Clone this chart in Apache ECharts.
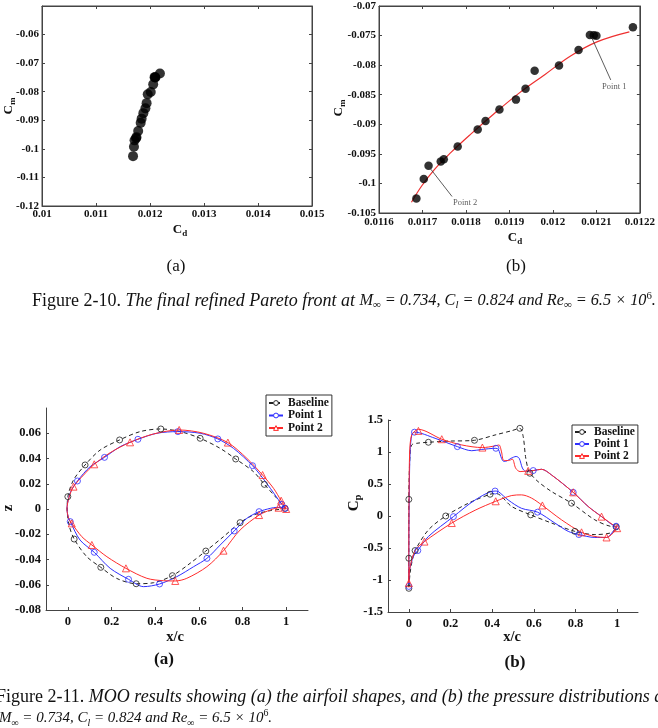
<!DOCTYPE html>
<html><head><meta charset="utf-8">
<script src="https://cdn.jsdelivr.net/npm/echarts@6/dist/echarts.min.js"></script>
<style>html,body{margin:0;padding:0;background:#fff}#c{width:658px;height:728px}</style>
</head><body><div id="c"></div>
<script>
// ---------- Figure 2-10: Pareto front ----------
const paretoCd = [0.011686, 0.011703, 0.011714, 0.011742, 0.011749, 0.011781, 0.011827, 0.011845, 0.011877, 0.011915, 0.011937, 0.011958, 0.012014, 0.012059, 0.012085, 0.012094, 0.0121, 0.012184];
const paretoCm = [-0.10255, -0.09927, -0.09703, -0.0963, -0.0959, -0.09377, -0.0909, -0.08943, -0.0875, -0.08583, -0.0840, -0.08093, -0.08008, -0.07743, -0.0749, -0.07495, -0.07502, -0.0736];
const fitCd = [0.0116747, 0.0116985, 0.0117283, 0.0117656, 0.0118104, 0.0118626, 0.0119222, 0.0119819, 0.0120415, 0.0121012, 0.0121758];
const fitCm = [-0.103192, -0.100393, -0.097572, -0.094750, -0.091701, -0.088343, -0.084730, -0.081570, -0.078410, -0.076062, -0.074369];
const annoNames = ['Point 1', 'Point 2'];
const annoTextCd = [0.012141, 0.011798];
const annoTextCm = [-0.08373, -0.10333];
const annoFromCd = [0.012133, 0.011768];
const annoFromCm = [-0.0825, -0.10221];
const annoToCd = [0.012089, 0.011719];
const annoToCm = [-0.07532, -0.09758];

// ---------- Figure 2-11 (a): airfoil shapes ----------
const baseShapeX = [1.0, 0.957, 0.90, 0.85, 0.769, 0.698, 0.606, 0.515, 0.426, 0.331, 0.237, 0.148, 0.079, 0.026, 0.0, -0.003, 0.006, 0.029, 0.087, 0.151, 0.224, 0.313, 0.392, 0.479, 0.56, 0.632, 0.713, 0.789, 0.85, 0.927, 0.988];
const baseShapeZ = [0.0, 0.0085, 0.0195, 0.0296, 0.0396, 0.048, 0.056, 0.0613, 0.0634, 0.0613, 0.0547, 0.0467, 0.0349, 0.023, 0.0098, 0.0, -0.013, -0.0238, -0.0378, -0.0462, -0.055, -0.0592, -0.0584, -0.0528, -0.043, -0.0333, -0.0219, -0.0108, -0.0048, -0.0013, 0.0];
const baseShapeMarkX = [0.0, 0.079, 0.237, 0.426, 0.606, 0.769, 0.90, 0.995, 0.029, 0.151, 0.313, 0.479, 0.632, 0.789];
const baseShapeMarkZ = [0.0098, 0.0349, 0.0547, 0.0634, 0.056, 0.0396, 0.0195, 0.0005, -0.0238, -0.0462, -0.0592, -0.0528, -0.0333, -0.0108];

const p1ShapeX = [1.0, 0.98, 0.911, 0.846, 0.759, 0.687, 0.606, 0.504, 0.408, 0.321, 0.24, 0.168, 0.102, 0.044, 0.018, 0.004, -0.004, 0.002, 0.011, 0.056, 0.121, 0.194, 0.278, 0.347, 0.42, 0.499, 0.576, 0.637, 0.698, 0.762, 0.82, 0.876, 0.927, 0.957, 0.988, 1.0];
const p1ShapeZ = [0.0, 0.0037, 0.0203, 0.0343, 0.048, 0.0555, 0.06, 0.0613, 0.06, 0.0552, 0.0494, 0.0409, 0.0335, 0.0222, 0.0155, 0.009, 0.0, -0.0065, -0.01, -0.0246, -0.0343, -0.047, -0.0557, -0.0615, -0.0594, -0.0536, -0.0457, -0.0391, -0.0285, -0.0174, -0.0074, -0.0021, 0.0005, 0.0013, 0.001, 0.0];
const p1ShapeMarkX = [0.044, 0.168, 0.321, 0.504, 0.687, 0.846, 0.98, 0.011, 0.121, 0.278, 0.42, 0.637, 0.762, 0.876, 0.995];
const p1ShapeMarkZ = [0.0222, 0.0409, 0.0552, 0.0613, 0.0555, 0.0343, 0.0037, -0.01, -0.0343, -0.0557, -0.0594, -0.0391, -0.0174, -0.0021, 0.0005];

const p2ShapeX = [1.0, 0.977, 0.942, 0.892, 0.82, 0.733, 0.621, 0.51, 0.392, 0.285, 0.194, 0.121, 0.072, 0.026, 0.006, -0.004, 0.004, 0.018, 0.064, 0.11, 0.179, 0.266, 0.362, 0.438, 0.492, 0.545, 0.637, 0.713, 0.789, 0.876, 0.927, 0.965, 1.0];
const p2ShapeZ = [0.0, 0.0066, 0.0164, 0.0269, 0.0401, 0.0526, 0.06, 0.0626, 0.0594, 0.0528, 0.0446, 0.0354, 0.0269, 0.0177, 0.0095, 0.0, -0.0075, -0.0114, -0.0219, -0.0285, -0.0378, -0.047, -0.0549, -0.0568, -0.057, -0.0549, -0.0457, -0.033, -0.0166, -0.0048, -0.0008, 0.001, 0.0];
const p2ShapeMarkX = [0.026, 0.121, 0.285, 0.51, 0.733, 0.892, 0.977, 1.0, 0.018, 0.11, 0.266, 0.492, 0.713, 0.876, 0.965];
const p2ShapeMarkZ = [0.0177, 0.0354, 0.0528, 0.0626, 0.0526, 0.0269, 0.0066, 0.0, -0.0114, -0.0285, -0.047, -0.057, -0.033, -0.0048, 0.001];

// ---------- Figure 2-11 (b): pressure distributions ----------
const baseCpX = [1.0, 0.973, 0.893, 0.781, 0.685, 0.62, 0.581, 0.573, 0.56, 0.549, 0.533, 0.494, 0.414, 0.315, 0.19, 0.094, 0.038, 0.014, 0.006, 0.0, 0.0, 0.0, 0.006, 0.017, 0.03, 0.094, 0.177, 0.286, 0.39, 0.42, 0.494, 0.585, 0.685, 0.797, 0.893, 0.973, 1.0];
const baseCpY = [-0.17, -0.165, -0.06, 0.2, 0.382, 0.538, 0.668, 0.72, 0.93, 1.24, 1.37, 1.333, 1.266, 1.183, 1.17, 1.152, 1.136, 1.11, 0.98, 0.26, -0.66, -1.13, -0.892, -0.685, -0.539, -0.217, 0.0, 0.2, 0.34, 0.35, 0.148, 0.018, -0.11, -0.24, -0.29, -0.26, -0.17];
const baseCpMarkX = [0.0, 0.0, 0.0, 0.03, 0.094, 0.177, 0.315, 0.39, 0.533, 0.581, 0.585, 0.781, 0.797, 0.995];
const baseCpMarkY = [0.26, -0.66, -1.13, -0.54, 1.152, 0.0, 1.183, 0.34, 1.37, 0.668, 0.018, 0.2, -0.24, -0.17];

const p1CpX = [1.0, 0.989, 0.925, 0.861, 0.789, 0.685, 0.637, 0.597, 0.56, 0.545, 0.53, 0.515, 0.49, 0.47, 0.455, 0.445, 0.43, 0.418, 0.35, 0.302, 0.233, 0.126, 0.027, 0.015, 0.006, 0.002, 0.0, 0.0, 0.003, 0.022, 0.043, 0.094, 0.214, 0.318, 0.414, 0.43, 0.477, 0.541, 0.618, 0.701, 0.765, 0.816, 0.893, 0.949, 0.981, 1.0];
const p1CpY = [-0.16, -0.157, -0.008, 0.148, 0.37, 0.641, 0.73, 0.71, 0.7, 0.75, 0.9, 0.93, 0.9, 0.86, 0.855, 0.9, 1.04, 1.058, 1.04, 1.02, 1.084, 1.214, 1.31, 1.28, 1.0, 0.3, -0.5, -1.06, -0.85, -0.63, -0.54, -0.32, -0.01, 0.25, 0.39, 0.38, 0.25, 0.12, 0.06, -0.11, -0.24, -0.29, -0.335, -0.335, -0.24, -0.16];
const p1CpMarkX = [0.0, 0.027, 0.043, 0.214, 0.233, 0.414, 0.418, 0.597, 0.618, 0.789, 0.816, 0.995];
const p1CpMarkY = [-1.1, 1.31, -0.54, -0.01, 1.084, 0.39, 1.058, 0.71, 0.06, 0.37, -0.29, -0.16];

const p2CpX = [1.0, 0.989, 0.925, 0.861, 0.789, 0.685, 0.637, 0.597, 0.573, 0.534, 0.513, 0.497, 0.478, 0.455, 0.445, 0.433, 0.414, 0.353, 0.254, 0.158, 0.046, 0.03, 0.012, 0.004, 0.001, 0.0, 0.0, 0.003, 0.03, 0.075, 0.206, 0.318, 0.417, 0.494, 0.541, 0.589, 0.641, 0.733, 0.829, 0.893, 0.949, 0.981, 1.0];
const p2CpY = [-0.19, -0.16, -0.01, 0.148, 0.37, 0.641, 0.73, 0.71, 0.705, 0.694, 0.746, 0.887, 0.866, 0.87, 1.0, 1.11, 1.095, 1.069, 1.11, 1.2, 1.354, 1.33, 1.25, 1.0, 0.3, -0.5, -1.05, -0.85, -0.54, -0.4, -0.11, 0.09, 0.23, 0.32, 0.33, 0.28, 0.165, -0.06, -0.255, -0.32, -0.335, -0.265, -0.19];
const p2CpMarkX = [0.0, 0.046, 0.075, 0.158, 0.206, 0.353, 0.417, 0.573, 0.641, 0.789, 0.829, 0.925, 0.949, 1.0];
const p2CpMarkY = [-1.05, 1.33, -0.4, 1.2, -0.11, 1.069, 0.23, 0.705, 0.165, 0.37, -0.255, -0.01, -0.335, -0.19];

const legendNames = ['Baseline', 'Point 1', 'Point 2'];
const xcTicks = [0, 0.2, 0.4, 0.6, 0.8, 1];

// ---------- build ----------
const SERIF = '"Liberation Serif", "Times New Roman", serif';
const zip = (xs, ys) => xs.map((x, i) => [x, ys[i]]);
const AX = '#444';
const BLUE = '#2f2fff', RED = '#ff2b2b', BLACK = '#222';

function axis(gi, min, max, interval, o) {
  o = o || {};
  const a = {
    type: 'value', gridIndex: gi, min: min, max: max,
    splitLine: {show: false},
    axisLine: {show: true, onZero: false, lineStyle: {color: AX, width: 1}},
    axisTick: {show: true, inside: true, length: o.tickLen || 3, lineStyle: {color: AX}},
    axisLabel: {show: o.label !== false, fontFamily: SERIF, fontWeight: 'bold', fontSize: o.fs || 11, color: '#111', margin: o.margin || 4, showMaxLabel: o.hideMax ? false : true}
  };
  if (interval) a.interval = interval;
  if (o.position) a.position = o.position;
  if (o.custom) {
    a.axisLabel.customValues = o.custom;
    a.axisTick.customValues = o.custom;
  }
  return a;
}

function lineSeries(name, xi, yi, data, color, dashed, symbol) {
  return {
    type: 'line', name: name, xAxisIndex: xi, yAxisIndex: yi, data: data,
    smooth: 0.3, showSymbol: false, symbol: symbol, symbolSize: 6,
    itemStyle: {color: 'rgba(255,255,255,0)', borderColor: color, borderWidth: 1},
    lineStyle: {color: color, width: 1, type: dashed ? [4, 3] : 'solid'},
    z: 3
  };
}
function markSeries(xi, yi, data, color, symbol) {
  return {
    type: 'scatter', name: '_m', xAxisIndex: xi, yAxisIndex: yi, data: data,
    symbol: symbol, symbolSize: symbol === 'triangle' ? 7 : 6,
    itemStyle: {color: 'rgba(255,255,255,0)', borderColor: color, borderWidth: 1},
    z: 4, silent: true
  };
}

const legendBase = {
  data: legendNames, orient: 'vertical', itemWidth: 14, itemHeight: 6,
  borderColor: '#333', borderWidth: 1, backgroundColor: '#fff', selectedMode: false,
  itemStyle: {color: '#fff', borderColor: 'inherit', borderWidth: 1},
  textStyle: {fontFamily: SERIF, fontWeight: 'bold', fontSize: 11.5, color: '#111'}
};

function capRich(mainFs, tailFs) {
  return {
    n: {fontFamily: SERIF, fontSize: mainFs, lineHeight: 20, fill: '#111'},
    i: {fontFamily: SERIF, fontStyle: 'italic', fontSize: mainFs, lineHeight: 20, fill: '#111'},
    t: {fontFamily: SERIF, fontStyle: 'italic', fontSize: tailFs, lineHeight: 20, fill: '#111'},
    si: {fontFamily: SERIF, fontStyle: 'italic', fontSize: tailFs * 0.66, lineHeight: 11, verticalAlign: 'bottom', fill: '#111'},
    sp: {fontFamily: SERIF, fontSize: tailFs * 0.66, lineHeight: 11, verticalAlign: 'top', fill: '#111'}
  };
}
function subRich(big, small) {
  return {
    c: {fontFamily: SERIF, fontWeight: 'bold', fontSize: big, lineHeight: big + 3, fill: '#111'},
    s: {fontFamily: SERIF, fontWeight: 'bold', fontSize: small, lineHeight: small, verticalAlign: 'bottom', fill: '#111'}
  };
}
function txt(x, y, text, rich, rot, align) {
  return {type: 'text', x: x, y: y, rotation: rot || 0, silent: true,
    style: {text: text, rich: rich, align: align || 'center', verticalAlign: 'middle'}};
}
const plainRich = (fs, bold) => ({t: {fontFamily: SERIF, fontSize: fs, fontWeight: bold ? 'bold' : 'normal', fill: '#111'}});

const capTail = '{t|M}{si|∞}{t| = 0.734, C}{si|l}{t| = 0.824 and Re}{si|∞}{t| = 6.5 × 10}{sp|6}{t|.}';

const option = {
  animation: false,
  backgroundColor: '#fff',
  grid: [
    {left: 42, top: 6, width: 270, height: 200, show: true, borderColor: AX, borderWidth: 1},
    {left: 379, top: 6, width: 268, height: 207, show: true, borderColor: AX, borderWidth: 1},
    {left: 46, top: 408, width: 262, height: 202},
    {left: 388, top: 420, width: 250, height: 192}
  ],
  xAxis: [
    axis(0, 0.01, 0.015, 0.001, {margin: 3}),
    axis(0, 0.01, 0.015, 0.001, {label: false, position: 'top'}),
    axis(1, 0.0116, 0.0122, 0.0001, {margin: 4}),
    axis(1, 0.0116, 0.0122, 0.0001, {label: false, position: 'top'}),
    axis(2, -0.1, 1.1, null, {custom: xcTicks, fs: 12.5, margin: 5}),
    axis(3, -0.1, 1.1, null, {custom: xcTicks, fs: 12.5, margin: 5})
  ],
  yAxis: [
    axis(0, -0.12, -0.05, 0.01, {hideMax: true, margin: 3}),
    axis(0, -0.12, -0.05, 0.01, {label: false, position: 'right'}),
    axis(1, -0.105, -0.07, 0.005, {margin: 3}),
    axis(1, -0.105, -0.07, 0.005, {label: false, position: 'right'}),
    axis(2, -0.08, 0.08, 0.02, {hideMax: true, fs: 12.5, margin: 5}),
    axis(3, -1.5, 1.5, 0.5, {fs: 12.5, margin: 5})
  ],
  legend: [
    Object.assign({}, legendBase, {left: 266, top: 395, itemGap: 0.5, padding: [2, 3, 2, 2]}),
    Object.assign({}, legendBase, {left: 572, top: 425, itemGap: 0, padding: [1, 3, 1, 2]})
  ],
  series: [
    {type: 'scatter', name: 'paretoA', xAxisIndex: 0, yAxisIndex: 0, data: zip(paretoCd, paretoCm),
     symbolSize: 10, itemStyle: {color: '#000'}, silent: true},
    {type: 'line', name: 'fit', xAxisIndex: 2, yAxisIndex: 2, data: zip(fitCd, fitCm),
     smooth: 0.4, showSymbol: false, lineStyle: {color: '#ee3030', width: 1.2}, z: 2, silent: true,
     markLine: {
       silent: true, symbol: ['none', 'arrow'], symbolSize: [0, 6],
       lineStyle: {color: '#333', width: 0.8, type: 'solid'}, label: {show: false},
       data: annoNames.map((n, i) => [{coord: [annoFromCd[i], annoFromCm[i]]}, {coord: [annoToCd[i], annoToCm[i]]}])
     }},
    {type: 'scatter', name: 'paretoB', xAxisIndex: 2, yAxisIndex: 2, data: zip(paretoCd, paretoCm),
     symbolSize: 8.5, itemStyle: {color: '#000'}, z: 3, silent: true},
    {type: 'scatter', name: 'anno', xAxisIndex: 2, yAxisIndex: 2, silent: true, symbolSize: 0,
     data: annoNames.map((n, i) => ({name: n, value: [annoTextCd[i], annoTextCm[i]]})),
     itemStyle: {color: 'rgba(0,0,0,0)'},
     label: {show: true, position: 'inside', formatter: '{b}', fontFamily: SERIF, fontSize: 8.5, color: '#333'}},

    lineSeries('Baseline', 4, 4, zip(baseShapeX, baseShapeZ), BLACK, true, 'circle'),
    lineSeries('Point 1', 4, 4, zip(p1ShapeX, p1ShapeZ), BLUE, false, 'circle'),
    lineSeries('Point 2', 4, 4, zip(p2ShapeX, p2ShapeZ), RED, false, 'triangle'),
    markSeries(4, 4, zip(baseShapeMarkX, baseShapeMarkZ), BLACK, 'circle'),
    markSeries(4, 4, zip(p1ShapeMarkX, p1ShapeMarkZ), BLUE, 'circle'),
    markSeries(4, 4, zip(p2ShapeMarkX, p2ShapeMarkZ), RED, 'triangle'),

    lineSeries('Baseline', 5, 5, zip(baseCpX, baseCpY), BLACK, true, 'circle'),
    lineSeries('Point 1', 5, 5, zip(p1CpX, p1CpY), BLUE, false, 'circle'),
    lineSeries('Point 2', 5, 5, zip(p2CpX, p2CpY), RED, false, 'triangle'),
    markSeries(5, 5, zip(baseCpMarkX, baseCpMarkY), BLACK, 'circle'),
    markSeries(5, 5, zip(p1CpMarkX, p1CpMarkY), BLUE, 'circle'),
    markSeries(5, 5, zip(p2CpMarkX, p2CpMarkY), RED, 'triangle')
  ],
  graphic: {elements: [
    txt(9, 106, '{c|C}{s|m}', subRich(13, 9), Math.PI / 2),
    txt(339, 108, '{c|C}{s|m}', subRich(13, 9), Math.PI / 2),
    txt(180, 230, '{c|C}{s|d}', subRich(13, 9)),
    txt(515, 238, '{c|C}{s|d}', subRich(13, 9)),
    txt(176, 267, '{t|(a)}', plainRich(17, false)),
    txt(516, 267, '{t|(b)}', plainRich(17, false)),
    txt(32, 301, '{n|Figure 2-10. }{i|The final refined Pareto front at }' + capTail, capRich(18, 16.3), 0, 'left'),

    txt(8.5, 508, '{t|z}', plainRich(15, true), Math.PI / 2),
    txt(354, 503, '{c|C}{s|p}', subRich(15, 10), Math.PI / 2),
    txt(175, 637, '{t|x/c}', plainRich(14.5, true)),
    txt(512, 637, '{t|x/c}', plainRich(14.5, true)),
    txt(164, 660, '{t|(a)}', plainRich(17, true)),
    txt(515, 663, '{t|(b)}', plainRich(17, true)),
    txt(-4, 697, '{n|Figure 2-11. }{i|MOO results showing (a) the airfoil shapes, and (b) the pressure distributions at}', capRich(18, 18), 0, 'left'),
    txt(-1, 718, capTail, capRich(15, 15), 0, 'left')
  ]}
};

const chart = echarts.init(document.getElementById('c'), null, {renderer: 'canvas'});
chart.setOption(option);
</script></body></html>
